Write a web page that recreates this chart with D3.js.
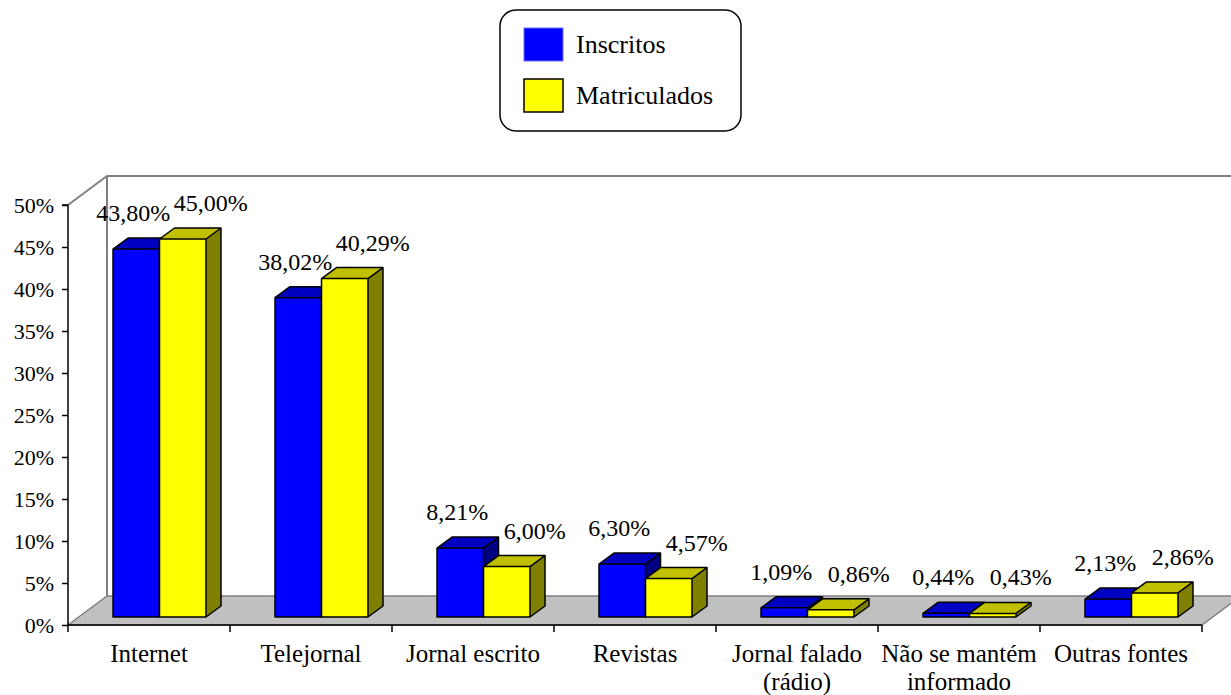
<!DOCTYPE html>
<html>
<head>
<meta charset="utf-8">
<script src="https://cdn.jsdelivr.net/npm/d3@7"></script>
<style>
  body { margin: 0; background: #fff; }
</style>
</head>
<body>
<div id="chart"></div>
<script>
const categories = ["Internet", "Telejornal", "Jornal escrito", "Revistas", "Jornal falado (rádio)", "Não se mantém informado", "Outras fontes"];
const categoryLines = [["Internet"], ["Telejornal"], ["Jornal escrito"], ["Revistas"], ["Jornal falado", "(rádio)"], ["Não se mantém", "informado"], ["Outras fontes"]];
const seriesNames = ["Inscritos", "Matriculados"];
const inscritos = [43.80, 38.02, 8.21, 6.30, 1.09, 0.44, 2.13];
const matriculados = [45.00, 40.29, 6.00, 4.57, 0.86, 0.43, 2.86];
const yTicks = [0, 5, 10, 15, 20, 25, 30, 35, 40, 45, 50];

const width = 1231, height = 695;
const x0 = 68, x1 = 1202, yBase = 625, yTop = 205;
// 3D depth of the floor / wall and of each bar
const DX = 39, DY = -29;
const barOff = { x: 10.5, y: -8 };
const barDepth = { x: 15, y: -11 };
const FONT = "'Liberation Serif', 'Times New Roman', serif";

const colors = {
    Inscritos: { front: "#0000ff", top: "#0000c0", side: "#000080" },
    Matriculados: { front: "#ffff00", top: "#c0c000", side: "#808000" }
};

const fmt = v => v.toFixed(2).replace(".", ",") + "%";

const svg = d3.select("#chart")
    .append("svg")
    .attr("width", width)
    .attr("height", height);

const y = d3.scaleLinear().domain([0, 50]).range([yBase, yTop]);
const x = d3.scaleBand().domain(categories).range([x0, x1]);
const xs = d3.scaleBand().domain(seriesNames).range([0, x.bandwidth()]).paddingOuter(0.742);

// back wall + floor
svg.append("polygon")
    .attr("points", [[x0, yBase], [x0 + DX, yBase + DY], [x1 + DX, yBase + DY], [x1, yBase]].join(" "))
    .attr("fill", "#c0c0c0")
    .attr("stroke", "#808080")
    .attr("stroke-width", 1.5);

svg.append("path")
    .attr("d", `M${x0},${yTop} L${x0 + DX},${yTop + DY} L${x1 + DX + 20},${yTop + DY} M${x0 + DX},${yTop + DY} L${x0 + DX},${yBase + DY}`)
    .attr("fill", "none")
    .attr("stroke", "#808080")
    .attr("stroke-width", 2);

// axes
const yAxis = svg.append("g")
    .attr("transform", `translate(${x0},0)`)
    .call(d3.axisLeft(y).tickValues(yTicks).tickSize(6).tickFormat(d => d + "%"))
    .attr("font-family", null).attr("font-size", null);
yAxis.select(".domain").attr("stroke", "#000").attr("stroke-width", 1.5).attr("d", `M-6,${yTop}H0V${yBase}`);
yAxis.selectAll(".tick line").attr("stroke", "#000").attr("stroke-width", 1.5);
yAxis.selectAll(".tick text").attr("x", -14).attr("dy", "0.36em").attr("fill", "#000")
    .style("font-family", FONT).style("font-size", "22px");

const xAxis = svg.append("g");
xAxis.append("line")
    .attr("x1", x0).attr("x2", x1).attr("y1", yBase).attr("y2", yBase)
    .attr("stroke", "#000").attr("stroke-width", 1.5);
xAxis.selectAll("line.tick")
    .data(categories.concat([null]))
    .enter().append("line")
    .attr("class", "tick")
    .attr("x1", (d, i) => i < categories.length ? x(d) : x1)
    .attr("x2", (d, i) => i < categories.length ? x(d) : x1)
    .attr("y1", yBase).attr("y2", yBase + 7)
    .attr("stroke", "#000").attr("stroke-width", 1.5);

const catLabels = xAxis.selectAll("text.cat")
    .data(categories)
    .enter().append("text")
    .attr("class", "cat")
    .attr("text-anchor", "middle")
    .style("font-family", FONT)
    .style("font-size", "25px");
catLabels.each(function(d, i) {
    const t = d3.select(this);
    categoryLines[i].forEach((line, j) => {
        t.append("tspan")
            .attr("x", x(d) + x.bandwidth() / 2)
            .attr("y", 662 + j * 28)
            .text(line);
    });
});

// bars
const barData = [];
categories.forEach((c, i) => {
    barData.push({ cat: c, s: "Inscritos", v: inscritos[i] });
    barData.push({ cat: c, s: "Matriculados", v: matriculados[i] });
});

const bw = xs.bandwidth();
const bars = svg.selectAll("g.bar")
    .data(barData)
    .enter().append("g")
    .attr("class", "bar");

bars.each(function(d) {
    const g = d3.select(this);
    const l = x(d.cat) + xs(d.s) + barOff.x;
    const r = l + bw;
    const b = yBase + barOff.y;
    const t = y(d.v) + barOff.y;
    const dx = barDepth.x, dy = barDepth.y;
    const col = colors[d.s];
    g.append("rect")
        .attr("x", l).attr("y", t).attr("width", bw).attr("height", b - t)
        .attr("fill", col.front);
    g.append("polygon")
        .attr("points", [[l, t], [l + dx, t + dy], [r + dx, t + dy], [r, t]].join(" "))
        .attr("fill", col.top);
    g.append("polygon")
        .attr("points", [[r, t], [r + dx, t + dy], [r + dx, b + dy], [r, b]].join(" "))
        .attr("fill", col.side);
    g.append("path")
        .attr("d", `M${l},${b}V${t}L${l + dx},${t + dy}H${r + dx}V${b + dy}L${r},${b}Z M${l},${t}H${r}L${r + dx},${t + dy} M${r},${t}V${b}`)
        .attr("fill", "none")
        .attr("stroke", "#000")
        .attr("stroke-width", 1.5)
        .attr("stroke-linejoin", "round");
});

// value labels
svg.selectAll("text.val")
    .data(barData)
    .enter().append("text")
    .attr("class", "val")
    .attr("text-anchor", "middle")
    .attr("x", d => x(d.cat) + xs(d.s) + barOff.x + bw / 2 + (d.s === "Inscritos" ? -3 : 28))
    .attr("y", d => y(d.v) + barOff.y + barDepth.y - 17)
    .style("font-family", FONT)
    .style("font-size", "24px")
    .text(d => fmt(d.v));

// legend
const legend = svg.append("g");
legend.append("rect")
    .attr("x", 500).attr("y", 10).attr("width", 241).attr("height", 121).attr("rx", 16)
    .attr("fill", "#fff").attr("stroke", "#000").attr("stroke-width", 1.5);
seriesNames.forEach((s, i) => {
    legend.append("rect")
        .attr("x", 524).attr("y", 28 + i * 51).attr("width", 39).attr("height", 33)
        .attr("fill", colors[s].front)
        .attr("stroke", i === 0 ? "#6a6aff" : "#000")
        .attr("stroke-width", i === 0 ? 1 : 1.5);
    legend.append("text")
        .attr("x", 576).attr("y", 53 + i * 51)
        .style("font-family", FONT)
        .style("font-size", "26px")
        .text(s);
});
</script>
</body>
</html>
